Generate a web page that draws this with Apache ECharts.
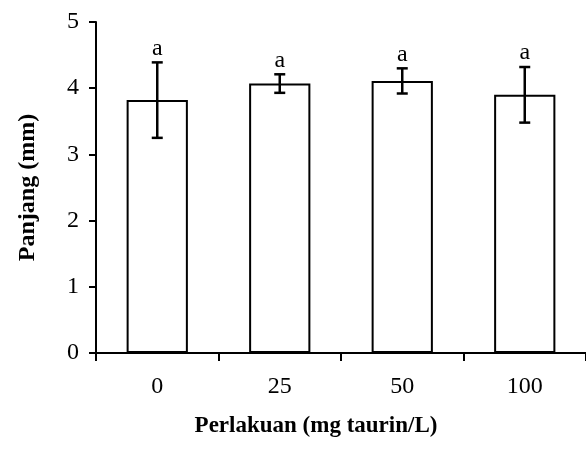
<!DOCTYPE html>
<html><head><meta charset="utf-8">
<script src="https://cdn.jsdelivr.net/npm/echarts@6/dist/echarts.min.js"></script>
<style>html,body{margin:0;padding:0;background:#fff}#c{width:586px;height:452px}</style>
</head><body><div id="c"></div>
<script>
var categories = ['0', '25', '50', '100'];
var means = [3.82, 4.07, 4.11, 3.90];
var errors = [0.57, 0.14, 0.19, 0.42];
var letters = ['a', 'a', 'a', 'a'];
var yTicks = [0, 1, 2, 3, 4, 5];

var FONT = '"Liberation Serif", "Times New Roman", serif';
var chart = echarts.init(document.getElementById('c'));
var errData = categories.map(function (c, i) { return [i, means[i] - errors[i], means[i] + errors[i], letters[i]]; });
chart.setOption({
  animation: false,
  grid: { left: 96, top: 22, right: 0, bottom: 99, containLabel: false },
  xAxis: {
    type: 'category', data: categories,
    axisLine: { lineStyle: { color: '#000', width: 2 } },
    axisTick: { show: true, length: 8, lineStyle: { color: '#000', width: 2 } },
    axisLabel: { color: '#000', fontFamily: FONT, fontSize: 24, margin: 22 },
    name: 'Perlakuan (mg taurin/L)', nameLocation: 'middle', nameGap: 62,
    nameTextStyle: { color: '#000', fontFamily: FONT, fontSize: 23, fontWeight: 'bold', padding: [0, 0, 0, -50] }
  },
  yAxis: {
    type: 'value', min: yTicks[0], max: yTicks[yTicks.length - 1], interval: 1,
    axisLine: { show: true, lineStyle: { color: '#000', width: 2 } },
    axisTick: { show: true, length: 7, lineStyle: { color: '#000', width: 2 } },
    axisLabel: { color: '#000', fontFamily: FONT, fontSize: 24, margin: 17 },
    splitLine: { show: false },
    name: 'Panjang (mm)', nameLocation: 'middle', nameGap: 56,
    nameTextStyle: { color: '#000', fontFamily: FONT, fontSize: 24, fontWeight: 'bold' }
  },
  series: [
    {
      type: 'bar', data: means, barWidth: '50%',
      itemStyle: { color: '#fff', borderColor: '#000', borderWidth: 2 }
    },
    {
      type: 'custom', data: errData,
      renderItem: function (params, api) {
        var x = api.value(0);
        var lo = api.coord([x, api.value(1)]);
        var hi = api.coord([x, api.value(2)]);
        var hw = 5.5;
        var st = { stroke: '#000', lineWidth: 2.5 };
        return {
          type: 'group',
          children: [
            { type: 'line', shape: { x1: lo[0], y1: lo[1], x2: hi[0], y2: hi[1] }, style: st },
            { type: 'line', shape: { x1: lo[0] - hw, y1: lo[1], x2: lo[0] + hw, y2: lo[1] }, style: st },
            { type: 'line', shape: { x1: hi[0] - hw, y1: hi[1], x2: hi[0] + hw, y2: hi[1] }, style: st },
            { type: 'text', style: { text: api.value(3), x: hi[0], y: hi[1] - 2, align: 'center', verticalAlign: 'bottom', font: '24px ' + FONT, fill: '#000' } }
          ]
        };
      },
      z: 5
    }
  ]
});
</script></body></html>
